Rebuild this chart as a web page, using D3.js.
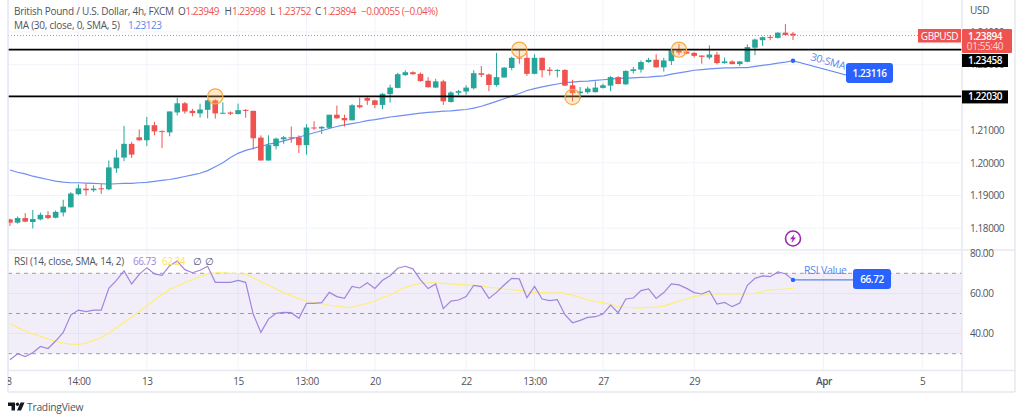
<!DOCTYPE html>
<html>
<head>
<meta charset="utf-8">
<script src="https://cdnjs.cloudflare.com/ajax/libs/d3/7.8.5/d3.min.js"></script>
<style>
  html, body { margin: 0; padding: 0; background: #fff; }
  svg { display: block; font-family: "Open Sans", "Noto Sans", sans-serif; letter-spacing: -0.25px; }
</style>
</head>
<body>
<div id="chart"></div>
<script>
// candles, one entry per 4h bar
const opens = [1.1827,1.1817,1.1831,1.1819,1.1827,1.1840,1.1832,1.1848,1.1864,1.1904,1.1921,1.1916,1.1922,1.1919,1.1983,1.2016,1.2058,1.2078,1.2069,1.2115,1.2097,1.2093,1.2154,1.2182,1.2159,1.2151,1.2162,1.2191,1.2151,1.2154,1.2149,1.2162,1.2159,1.2077,1.2007,1.2051,1.2072,1.2078,1.2078,1.2054,1.2108,1.2105,1.2107,1.2147,
  1.2137,1.2130,1.2176,1.2198,1.2191,1.2177,1.2210,1.2229,1.2268,1.2277,1.2272,1.2251,1.2230,1.2249,1.2186,1.2214,1.2218,1.2228,1.2274,1.2270,1.2238,1.2261,1.2290,1.2322,1.2321,1.2272,1.2321,1.2285,1.2282,1.2284,1.2237,1.2213,1.2216,1.2216,1.2229,1.2236,1.2262,1.2240,1.2281,1.2285,1.2308,1.2315,1.2292,
  1.2311,1.2344,1.2340,1.2336,1.2328,1.2322,1.2331,1.2305,1.2310,1.2302,1.2309,1.2352,1.2375,1.2385,1.2382,1.2398,1.23949];
const highs = [1.1829,1.1836,1.1846,1.1856,1.1848,1.1852,1.1854,1.1887,1.1910,1.1934,1.1936,1.1931,1.1936,1.2007,1.2040,1.2113,1.2064,1.2102,1.2140,1.2125,1.2099,1.2157,1.2199,1.2186,1.2165,1.2181,1.2193,1.2194,1.2185,1.2157,1.2181,1.2164,1.2159,1.2084,1.2084,1.2077,1.2082,1.2111,1.2084,1.2118,1.2127,1.2112,1.2147,1.2175,
  1.2147,1.2179,1.2199,1.2203,1.2193,1.2213,1.2239,1.2275,1.2283,1.2280,1.2276,1.2262,1.2257,1.2254,1.2219,1.2223,1.2237,1.2283,1.2296,1.2273,1.2336,1.2293,1.2324,1.2344,1.2338,1.2332,1.2322,1.2293,1.2286,1.2286,1.2254,1.2232,1.2233,1.2249,1.2242,1.2265,1.2265,1.2283,1.2293,1.2313,1.2321,1.2332,1.2321,
  1.2346,1.2364,1.2342,1.2339,1.2329,1.2359,1.2339,1.2322,1.2313,1.2311,1.2362,1.2380,1.2386,1.2391,1.2399,1.2424,1.23998];
const lows = [1.1807,1.1814,1.1818,1.1799,1.1824,1.1827,1.1830,1.1836,1.1863,1.1901,1.1900,1.1911,1.1905,1.1916,1.1969,1.2005,1.2015,1.2067,1.2051,1.2084,1.2045,1.2081,1.2145,1.2150,1.2142,1.2138,1.2136,1.2135,1.2151,1.2146,1.2148,1.2138,1.2041,1.2007,1.2007,1.2041,1.2058,1.2061,1.2030,1.2025,1.2101,1.2088,1.2104,1.2135,
  1.2111,1.2130,1.2166,1.2177,1.2167,1.2164,1.2184,1.2228,1.2266,1.2269,1.2248,1.2230,1.2228,1.2177,1.2184,1.2207,1.2208,1.2224,1.2262,1.2219,1.2233,1.2260,1.2283,1.2303,1.2266,1.2271,1.2261,1.2267,1.2261,1.2235,1.2188,1.2196,1.2211,1.2215,1.2227,1.2219,1.2240,1.2238,1.2273,1.2276,1.2306,1.2291,1.2279,
  1.2299,1.2329,1.2332,1.2322,1.2303,1.2316,1.2301,1.2303,1.2301,1.2296,1.2307,1.2329,1.2357,1.2375,1.2380,1.2389,1.23752];
const closes = [1.1817,1.1831,1.1820,1.1828,1.1841,1.1831,1.1850,1.1866,1.1906,1.1922,1.1916,1.1921,1.1920,1.1986,1.2016,1.2058,1.2025,1.2069,1.2115,1.2096,1.2094,1.2157,1.2182,1.2157,1.2152,1.2163,1.2191,1.2151,1.2153,1.2150,1.2161,1.2159,1.2075,1.2007,1.2054,1.2074,1.2078,1.2075,1.2054,1.2108,1.2105,1.2110,1.2147,1.2136,
  1.2130,1.2176,1.2170,1.2190,1.2177,1.2211,1.2230,1.2271,1.2277,1.2271,1.2250,1.2231,1.2249,1.2188,1.2215,1.2219,1.2230,1.2274,1.2269,1.2238,1.2262,1.2291,1.2321,1.2320,1.2272,1.2321,1.2283,1.2281,1.2284,1.2236,1.2213,1.2218,1.2227,1.2230,1.2237,1.2262,1.2241,1.2281,1.2286,1.2308,1.2315,1.2292,1.2313,
  1.2344,1.2337,1.2334,1.2327,1.2324,1.2331,1.2305,1.2310,1.2302,1.2310,1.2354,1.2377,1.2384,1.2382,1.2398,1.2391,1.23894];
const sma30 = [1.1978,1.1971,1.1966,1.1959,1.1954,1.1949,1.1944,1.1941,1.1939,1.1939,1.1938,1.1937,1.1936,1.1935,1.1936,1.1937,1.1937,1.1939,1.1940,1.1943,1.1946,1.1949,1.1953,1.1958,1.1963,1.1968,1.1976,1.1988,1.2000,1.2016,1.2029,1.2038,1.2044,1.2050,1.2057,1.2061,1.2067,1.2073,1.2079,1.2085,1.2092,1.2098,1.2105,1.2111,
  1.2116,1.2120,1.2124,1.2129,1.2132,1.2136,1.2140,1.2143,1.2146,1.2149,1.2152,1.2154,1.2156,1.2158,1.2159,1.2161,1.2163,1.2167,1.2173,1.2180,1.2188,1.2196,1.2204,1.2212,1.2221,1.2227,1.2232,1.2237,1.2241,1.2245,1.2247,1.2249,1.2250,1.2252,1.2254,1.2256,1.2258,1.2259,1.2260,1.2261,1.2262,1.2264,1.2266,
  1.2271,1.2275,1.2279,1.2283,1.2285,1.2287,1.2289,1.2290,1.2290,1.2291,1.2291,1.2295,1.2298,1.2301,1.2305,1.2308,1.2312];
const rsiValues = [27.0,30.0,28.6,30.5,33.6,32.6,36.3,40.6,49.2,51.7,50.9,51.7,51.7,62.5,66.5,71.2,64.7,69.5,72.8,69.7,69.0,73.8,76.1,71.8,70.3,71.5,73.5,65.5,65.5,65.5,66.5,65.5,49.6,40.6,47.2,50.1,50.6,50.4,47.6,55.0,55.0,55.4,60.5,58.4,
  57.5,63.5,62.7,65.3,62.5,66.5,68.8,72.5,73.5,72.2,66.7,62.4,64.7,52.4,56.2,56.7,58.4,64.0,63.4,57.5,60.5,64.2,67.5,67.2,57.9,63.5,57.2,56.4,56.9,49.4,45.4,46.6,48.1,48.4,49.7,54.2,50.4,57.2,57.7,61.4,62.2,57.5,60.4,64.7,64.2,
  62.5,60.4,59.7,61.2,54.7,55.5,53.4,55.2,64.0,67.5,68.7,68.3,70.7,69.8,66.72];
const rsiSignal = [45.1,43.1,41.3,39.8,38.6,37.3,36.1,35.3,34.8,34.6,35.3,36.6,37.9,40.3,42.9,45.6,48.1,50.9,53.9,56.7,59.5,62.0,63.7,65.3,66.8,68.3,69.7,70.2,70.2,70.0,69.8,69.7,67.8,65.8,64.2,62.2,60.4,58.9,57.4,56.2,55.5,54.9,54.1,53.6,
  53.2,53.1,54.1,55.0,56.2,57.9,59.2,61.2,63.0,64.2,65.0,65.3,65.3,65.0,64.7,64.5,64.2,64.0,63.7,63.0,62.7,62.2,61.9,61.5,60.9,60.5,60.4,60.7,60.7,59.9,59.0,58.0,56.7,55.9,55.4,54.6,53.4,53.1,52.9,52.7,53.1,53.1,53.7,54.9,56.2,
  57.2,58.5,59.0,59.7,59.9,59.7,59.7,59.7,59.9,60.0,60.9,61.7,62.0,62.2,62.5];

const timeLabels = ["8","14:00","13","15","13:00","20","22","13:00","27","29","Apr","5"];
const timeBars = [-0.2,9,18,30,39,48,60,69,78,90,107,120];
const boldTimeLabels = ["Apr"];
const priceTicks = [1.18,1.19,1.20,1.21,1.22,1.23,1.24];
const hiddenPriceLabels = [1.22]; // sits fully behind the 1.22030 tag
const rsiTicks = [40,60,80];
const rsiLevels = [70,50,30];
const levels = [1.23458,1.2203];
const touchBars = [27,67,74,88];
const touchPrices = [1.2203,1.2346,1.2201,1.2346];
const lastPrice = 1.23894;

const WIDTH = 1024, HEIGHT = 420;
const paneLeft = 8, paneRight = 962, axisRight = 1015;
const sepY = 250, timeTop = 370.5, timeBottom = 392;

const green = "#26a69a", red = "#ef5350", blue = "#2962ff", blueText = "#5b84f0", gray = "#50535e";

const svg = d3.select("#chart").append("svg").attr("width", WIDTH).attr("height", HEIGHT);

const x = d3.scaleLinear().domain([0, 103]).range([10, 793]);
const y = d3.scaleLinear().domain([1.18, 1.24]).range([228.2, 32]);
const yRsi = d3.scaleLinear().domain([30, 70]).range([353.7, 273.3]);

svg.append("clipPath").attr("id", "pane")
  .append("rect").attr("x", paneLeft).attr("y", 0).attr("width", paneRight - paneLeft).attr("height", timeBottom);
const plot = svg.append("g").attr("clip-path", "url(#pane)");

// grid
const gridColor = "#f0f3fa";
plot.selectAll(".vgrid").data(timeBars).enter().append("line")
  .attr("x1", d => x(d)).attr("x2", d => x(d))
  .attr("y1", 0).attr("y2", timeTop)
  .attr("stroke", gridColor);
plot.selectAll(".hgrid").data(priceTicks).enter().append("line")
  .attr("x1", paneLeft).attr("x2", paneRight)
  .attr("y1", d => y(d)).attr("y2", d => y(d))
  .attr("stroke", gridColor);
plot.selectAll(".rgrid").data([40, 60, 80]).enter().append("line")
  .attr("x1", paneLeft).attr("x2", paneRight)
  .attr("y1", d => yRsi(d)).attr("y2", d => yRsi(d))
  .attr("stroke", gridColor);

// frame
const frame = svg.append("g").attr("stroke", "#e6e9f0").attr("stroke-width", 1.5);
[[paneLeft, 0, paneLeft, timeBottom],
 [paneRight, 0, paneRight, timeBottom],
 [paneLeft, sepY, axisRight, sepY],
 [paneLeft, timeTop, axisRight, timeTop],
 [paneLeft, timeBottom, axisRight, timeBottom],
 [axisRight, 0, axisRight, timeBottom]].forEach(d => {
  frame.append("line").attr("x1", d[0]).attr("y1", d[1]).attr("x2", d[2]).attr("y2", d[3]);
});

// last price dotted line
plot.append("line")
  .attr("x1", paneLeft).attr("x2", 918)
  .attr("y1", y(lastPrice)).attr("y2", y(lastPrice))
  .attr("stroke", red).attr("stroke-width", 0.8).attr("stroke-dasharray", "1 2");

// sma under the candles
const smaLine = d3.line().x((d, i) => x(i)).y(d => y(d));
plot.append("path").attr("d", smaLine(sma30))
  .attr("fill", "none").attr("stroke", "#6f8ff2").attr("stroke-width", 1.2);

// candles
const idx = d3.range(opens.length);
const candle = plot.selectAll(".candle").data(idx).enter().append("g");
candle.append("line")
  .attr("x1", d => x(d)).attr("x2", d => x(d))
  .attr("y1", d => y(highs[d])).attr("y2", d => y(lows[d]))
  .attr("stroke", d => closes[d] >= opens[d] ? green : red);
candle.append("rect")
  .attr("x", d => x(d) - 2.8).attr("width", 5.6)
  .attr("y", d => y(Math.max(opens[d], closes[d])))
  .attr("height", d => Math.max(1, Math.abs(y(opens[d]) - y(closes[d]))))
  .attr("fill", d => closes[d] >= opens[d] ? green : red);

// support and resistance
plot.selectAll(".level").data(levels).enter().append("line")
  .attr("x1", paneLeft).attr("x2", paneRight)
  .attr("y1", d => y(d)).attr("y2", d => y(d))
  .attr("stroke", "#000").attr("stroke-width", 1.8);

// touch circles
plot.selectAll(".touch").data(touchBars).enter().append("circle")
  .attr("cx", d => x(d))
  .attr("cy", (d, i) => y(touchPrices[i]))
  .attr("r", 7.6)
  .attr("fill", "#ffb74d").attr("fill-opacity", 0.3)
  .attr("stroke", "#f7a94a").attr("stroke-width", 1.2);

// rsi pane
plot.append("rect")
  .attr("x", paneLeft).attr("width", paneRight - paneLeft)
  .attr("y", yRsi(70)).attr("height", yRsi(30) - yRsi(70))
  .attr("fill", "#7e57c2").attr("fill-opacity", 0.1);
plot.selectAll(".rsiLevel").data(rsiLevels).enter().append("line")
  .attr("x1", paneLeft).attr("x2", paneRight)
  .attr("y1", d => yRsi(d)).attr("y2", d => yRsi(d))
  .attr("stroke", "#9a9ca6").attr("stroke-dasharray", "4 4");
const rsiLine = d3.line().x((d, i) => x(i)).y(d => yRsi(d));
plot.append("path").attr("d", rsiLine(rsiSignal))
  .attr("fill", "none").attr("stroke", "#ffee75").attr("stroke-width", 1.2);
plot.append("path").attr("d", rsiLine(rsiValues))
  .attr("fill", "none").attr("stroke", "#a085dc").attr("stroke-width", 1.2);

// time axis
svg.append("clipPath").attr("id", "timeClip")
  .append("rect").attr("x", paneLeft).attr("y", 0).attr("width", paneRight - paneLeft).attr("height", 24);
const timeAxis = d3.axisBottom(x).tickValues(timeBars).tickSize(0)
  .tickFormat((d, i) => timeLabels[i]);
const tg = svg.append("g").attr("transform", `translate(0,${timeTop})`)
  .attr("clip-path", "url(#timeClip)").call(timeAxis);
tg.select(".domain").remove();
tg.selectAll("text")
  .attr("y", 7).attr("dy", "0.71em")
  .attr("fill", gray)
  .attr("font-family", "'Open Sans', sans-serif")
  .attr("font-size", 10)
  .attr("letter-spacing", "-0.4px")
  .attr("font-weight", (d, i) => boldTimeLabels.includes(timeLabels[i]) ? 600 : 400);

// price axis
const priceAxis = d3.axisRight(y).tickValues(priceTicks).tickSize(0)
  .tickFormat(d => hiddenPriceLabels.includes(d) ? "" : d3.format(".5f")(d));
const pg = svg.append("g").attr("transform", `translate(${paneRight},0)`).call(priceAxis);
pg.select(".domain").remove();
pg.selectAll("text").attr("x", 8).attr("fill", gray)
  .attr("font-family", "'Open Sans', sans-serif").attr("font-size", 10).attr("letter-spacing", "-0.4px");

const rsiAxis = d3.axisRight(yRsi).tickValues(rsiTicks).tickSize(0).tickFormat(d3.format(".2f"));
const rg = svg.append("g").attr("transform", `translate(${paneRight},0)`).call(rsiAxis);
rg.select(".domain").remove();
rg.selectAll("text").attr("x", 8).attr("fill", gray)
  .attr("font-family", "'Open Sans', sans-serif").attr("font-size", 10).attr("letter-spacing", "-0.4px");

svg.append("text").attr("x", 970).attr("y", 14).attr("fill", gray).attr("font-size", 10).text("USD");

// helpers for text labels
function label(g, px, py, str, color, size, opts) {
  opts = opts || {};
  return g.append("text").attr("x", px).attr("y", py)
    .attr("fill", color).attr("font-size", size)
    .attr("text-anchor", opts.anchor || "start")
    .attr("font-weight", opts.weight || 400)
    .attr("letter-spacing", opts.spacing || null)
    .text(str);
}
function box(g, bx, by, w, h, color, r) {
  g.append("rect").attr("x", bx).attr("y", by).attr("width", w).attr("height", h)
    .attr("rx", r || 0).attr("fill", color);
}

const tags = svg.append("g");
const tagText = { anchor: "middle", weight: 600, spacing: "-0.4px" };
box(tags, 962, 54, 46, 13, "#000");
label(tags, 985, 64, "1.23458", "#fff", 10, tagText);
box(tags, 962, y(levels[1]) - 6, 46, 13, "#000");
label(tags, 985, y(levels[1]) + 4, "1.22030", "#fff", 10, tagText);
box(tags, 918, 29, 43, 13.5, red);
label(tags, 939.5, 39.5, "GBPUSD", "#fff", 10, { anchor: "middle", spacing: "-0.4px" });
box(tags, 962, 29, 50, 24, red, 1);
label(tags, 985, 39.5, "1.23894", "#fff", 10, tagText);
label(tags, 985, 50, "01:55:40", "#ffd6d5", 10, { anchor: "middle", spacing: "-0.4px" });

// sma callout
const smaLast = sma30[sma30.length - 1], lastBar = opens.length - 1;
svg.append("line").attr("x1", x(lastBar)).attr("y1", y(smaLast))
  .attr("x2", 846).attr("y2", 75).attr("stroke", "#5b84f0").attr("stroke-width", 1.2);
svg.append("circle").attr("cx", x(lastBar)).attr("cy", y(smaLast)).attr("r", 2.2).attr("fill", blue);
box(tags, 846, 63, 47, 20, blue, 3);
label(tags, 869.5, 76.5, "1.23116", "#fff", 10, tagText);
svg.append("text").attr("transform", "translate(810,60) rotate(16)")
  .attr("fill", blueText).attr("font-size", 10.5).text("30-SMA");

// rsi callout
const rsiLast = rsiValues[rsiValues.length - 1];
svg.append("line").attr("x1", x(lastBar)).attr("y1", yRsi(rsiLast))
  .attr("x2", 853).attr("y2", yRsi(rsiLast)).attr("stroke", "#5b84f0").attr("stroke-width", 1.2);
svg.append("circle").attr("cx", x(lastBar)).attr("cy", yRsi(rsiLast)).attr("r", 2.2).attr("fill", blue);
box(tags, 853, 269, 38, 20, blue, 3);
label(tags, 872, 282.5, "66.72", "#fff", 10, tagText);
label(svg, 804, 274, "RSI Value", blueText, 10.5);

// lightning marker
const bolt = svg.append("g").attr("transform", "translate(793,238.5)");
bolt.append("circle").attr("r", 7.5).attr("fill", "#fff").attr("stroke", "#9c27b0").attr("stroke-width", 1.6);
bolt.append("path").attr("d", "M1.5,-4.5 L-3,0.8 L-0.4,0.8 L-1.5,4.5 L3,-1 L0.4,-1 Z").attr("fill", "#9c27b0");

// legends
const num = { spacing: "-0.5px" };
label(svg, 14, 14.5, "British Pound / U.S. Dollar, 4h, FXCM", gray, 10);
[["O", 178, "1.23949"], ["H", 224.5, "1.23998"], ["L", 270, "1.23752"], ["C", 315, "1.23894"]].forEach(d => {
  label(svg, d[1], 14.5, d[0], gray, 10);
  label(svg, d[1] + 7.5, 14.5, d[2], red, 10, num);
});
label(svg, 361, 14.5, "\u22120.00055 (\u22120.04%)", red, 10, num);
label(svg, 14, 28.5, "MA (30, close, 0, SMA, 5)", gray, 10);
label(svg, 128, 28.5, "1.23123", blueText, 10, num);
label(svg, 14, 264.5, "RSI (14, close, SMA, 14, 2)", gray, 10);
label(svg, 133, 264.5, "66.73", "#a085dc", 10, num);
label(svg, 162, 264.5, "62.24", "#ffe35a", 10, num);
label(svg, 193, 264.5, "\u2205", gray, 10);
label(svg, 205, 264.5, "\u2205", gray, 10);

// logo
const logo = svg.append("g").attr("transform", "translate(8,402.5)").attr("fill", "#131722");
logo.append("path").attr("d", "M0,0 H7 V8 H3.5 V3.5 H0 Z");
logo.append("circle").attr("cx", 9.5).attr("cy", 1.7).attr("r", 1.7);
logo.append("path").attr("d", "M12.5,0 H16.5 L13,8 H9 Z");
label(svg, 27, 411, "TradingView", gray, 10.3);
</script>
</body>
</html>
